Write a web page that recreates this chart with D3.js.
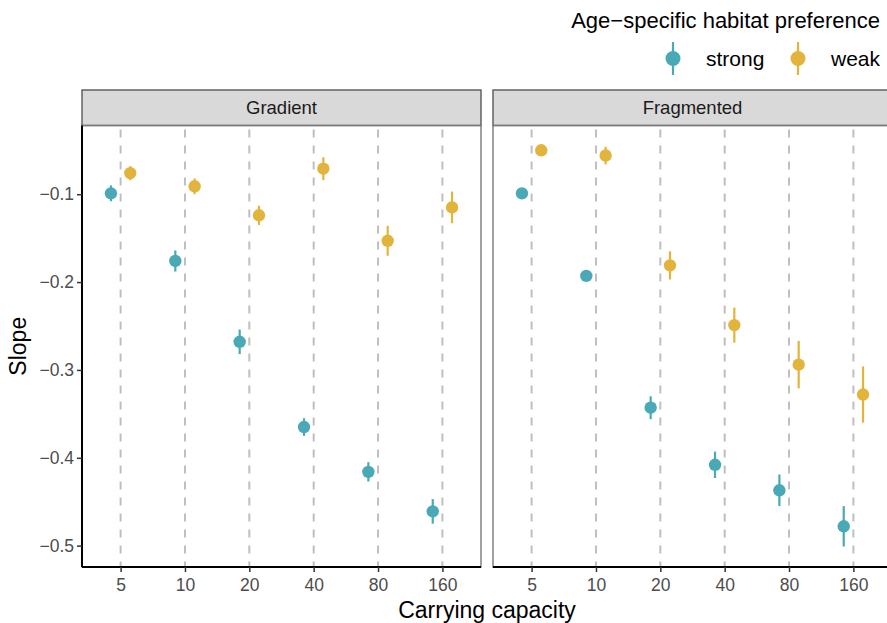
<!DOCTYPE html>
<html>
<head>
<meta charset="utf-8">
<script src="https://cdn.jsdelivr.net/npm/d3@7"></script>
<style>
  body { margin: 0; background: #fff; }
  svg { display: block; font-family: "Liberation Sans", Arial, Helvetica, sans-serif; }
</style>
</head>
<body>
<svg id="chart" width="887" height="623"></svg>
<script>
// ---- data ----
const capacities = ["5", "10", "20", "40", "80", "160"];
const landscapes = ["Gradient", "Fragmented"];
const preferences = ["strong", "weak"];
const yTicks = [-0.1, -0.2, -0.3, -0.4, -0.5];

const gradientStrong    = [-0.099, -0.176, -0.268, -0.365, -0.416, -0.461];
const gradientStrongErr = [0.009, 0.012, 0.014, 0.010, 0.011, 0.014];
const gradientWeak      = [-0.076, -0.091, -0.124, -0.071, -0.153, -0.115];
const gradientWeakErr   = [0.008, 0.009, 0.011, 0.013, 0.017, 0.018];
const fragStrong        = [-0.099, -0.193, -0.343, -0.408, -0.437, -0.478];
const fragStrongErr     = [0.005, 0.006, 0.013, 0.015, 0.018, 0.023];
const fragWeak          = [-0.050, -0.056, -0.181, -0.249, -0.294, -0.328];
const fragWeakErr       = [0.004, 0.010, 0.016, 0.020, 0.027, 0.032];

const seriesData = {
  Gradient:   { strong: [gradientStrong, gradientStrongErr], weak: [gradientWeak, gradientWeakErr] },
  Fragmented: { strong: [fragStrong, fragStrongErr],         weak: [fragWeak, fragWeakErr] }
};

const colors = { strong: "#4aa9b6", weak: "#e3b43c" };

// ---- layout ----
const svg = d3.select("#chart");
const panelW = 399, gap = 12;
const panelX = [82, 82 + panelW + gap];
const stripTop = 90, panelTop = 125.5, panelBottom = 567;

const y = d3.scaleLinear().domain([-0.5243, -0.0218]).range([panelBottom, panelTop]);
const color = d3.scaleOrdinal().domain(preferences).range([colors.strong, colors.weak]);

landscapes.forEach((land, pi) => {
  const x0 = panelX[pi];
  const x = d3.scalePoint().domain(capacities).range([0, panelW]).padding(0.6);
  const dodge = d3.scalePoint().domain(preferences).range([-x.step() * 0.15, x.step() * 0.15]);
  const g = svg.append("g").attr("transform", `translate(${x0},0)`);

  // strip
  g.append("rect").attr("x", 0).attr("y", stripTop).attr("width", panelW).attr("height", panelTop - stripTop)
    .attr("fill", "#d9d9d9").attr("stroke", "#595959").attr("stroke-width", 1.4);
  g.append("text").attr("x", panelW / 2).attr("y", (stripTop + panelTop) / 2 + 6.5)
    .attr("text-anchor", "middle").attr("font-size", 18.5).attr("fill", "#1a1a1a").text(land);

  // panel border (grey)
  g.append("rect").attr("x", 0).attr("y", panelTop).attr("width", panelW).attr("height", panelBottom - panelTop)
    .attr("fill", "none").attr("stroke", "#7a7a7a").attr("stroke-width", 1.4);

  // dashed vertical reference lines
  g.selectAll("line.ref").data(capacities).enter().append("line")
    .attr("x1", d => x(d)).attr("x2", d => x(d))
    .attr("y1", panelTop + 4).attr("y2", panelBottom)
    .attr("stroke", "#bfbfbf").attr("stroke-width", 2).attr("stroke-dasharray", "8,8");

  // x axis
  const xAxis = d3.axisBottom(x).tickSize(5).tickPadding(7);
  const ax = g.append("g").attr("transform", `translate(0,${panelBottom})`).call(xAxis);
  ax.select(".domain").attr("stroke", "#000").attr("stroke-width", 2).attr("d", `M0,0H${panelW}`);
  ax.selectAll(".tick line").attr("stroke", "#333").attr("stroke-width", 1.5);
  ax.selectAll(".tick text").attr("font-size", 17.5).attr("fill", "#4d4d4d").attr("font-family", "Liberation Sans, Arial, sans-serif");

  if (pi === 0) {
    const yAxis = d3.axisLeft(y).tickValues(yTicks).tickSize(5).tickPadding(3)
      .tickFormat(d => d3.format(".1f")(d).replace("-", "\u2212"));
    const ay = g.append("g").call(yAxis);
    ay.select(".domain").attr("stroke", "#000").attr("stroke-width", 2).attr("d", `M0,${panelTop}V${panelBottom}`);
    ay.selectAll(".tick line").attr("stroke", "#333").attr("stroke-width", 1.5);
    ay.selectAll(".tick text").attr("font-size", 17.5).attr("fill", "#4d4d4d").attr("font-family", "Liberation Sans, Arial, sans-serif");
  }

  // point ranges
  preferences.forEach(pref => {
    const [vals, errs] = seriesData[land][pref];
    const pts = capacities.map((c, i) => ({ c, v: vals[i], e: errs[i] }));
    const pg = g.append("g");
    pg.selectAll("line.err").data(pts).enter().append("line")
      .attr("x1", d => x(d.c) + dodge(pref)).attr("x2", d => x(d.c) + dodge(pref))
      .attr("y1", d => y(d.v - d.e)).attr("y2", d => y(d.v + d.e))
      .attr("stroke", color(pref)).attr("stroke-width", 2.2);
    pg.selectAll("circle").data(pts).enter().append("circle")
      .attr("cx", d => x(d.c) + dodge(pref)).attr("cy", d => y(d.v)).attr("r", 6.2)
      .attr("fill", color(pref));
  });
});

// axis titles
svg.append("text").attr("x", (82 + panelX[1] + panelW) / 2).attr("y", 618)
  .attr("text-anchor", "middle").attr("font-size", 23).attr("fill", "#000").text("Carrying capacity");
svg.append("text").attr("transform", `translate(26,${(panelTop + panelBottom) / 2}) rotate(-90)`)
  .attr("text-anchor", "middle").attr("font-size", 23).attr("fill", "#000").text("Slope");

// legend
const lg = svg.append("g");
lg.append("text").attr("x", 880).attr("y", 28).attr("text-anchor", "end")
  .attr("font-size", 22).attr("fill", "#000").text("Age\u2212specific habitat preference");
const legendItems = [
  { key: "strong", kx: 673, tx: 706 },
  { key: "weak", kx: 798, tx: 831 }
];
legendItems.forEach(it => {
  lg.append("line").attr("x1", it.kx).attr("x2", it.kx).attr("y1", 42).attr("y2", 75)
    .attr("stroke", color(it.key)).attr("stroke-width", 2.2);
  lg.append("circle").attr("cx", it.kx).attr("cy", 58.5).attr("r", 7.5).attr("fill", color(it.key));
  lg.append("text").attr("x", it.tx).attr("y", 66).attr("font-size", 21).attr("fill", "#000").text(it.key);
});
</script>
</body>
</html>
